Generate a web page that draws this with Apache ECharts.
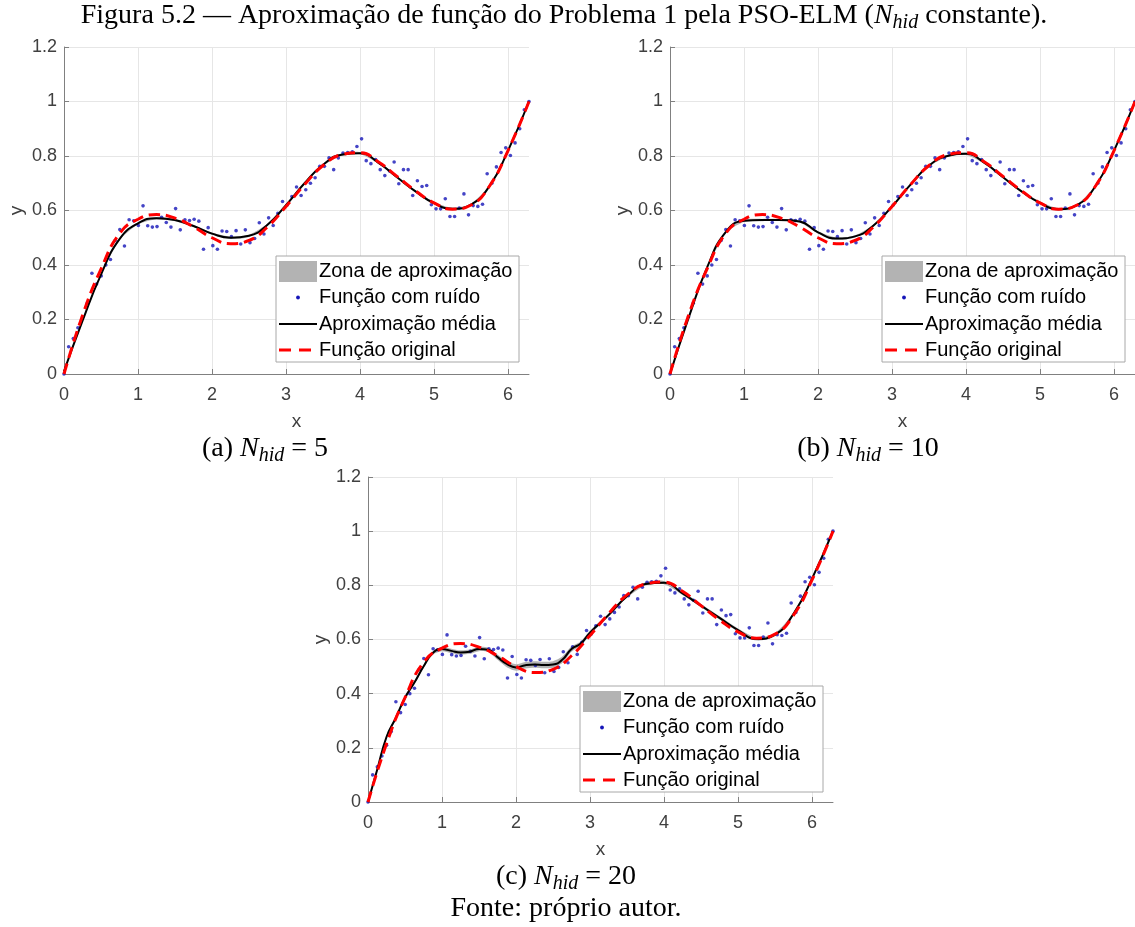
<!DOCTYPE html>
<html><head><meta charset="utf-8">
<script src="https://cdn.jsdelivr.net/npm/echarts@6/dist/echarts.min.js"></script>
<style>html,body{margin:0;padding:0;background:#fff}#c{width:1135px;height:927px}</style>
</head><body><div id="c"></div>
<script>
// ---------- DATA ----------
const xTickValues = [0, 1, 2, 3, 4, 5, 6];
const yTickValues = [0, 0.2, 0.4, 0.6, 0.8, 1, 1.2];
const xMax = 6.2832;

const curveX = [0,0.25,0.5,0.75,1,1.25,1.5,1.75,2,2.25,2.5,2.75,3,3.25,3.5,3.75,4,4.25,4.5,4.75,5,5.25,5.5,5.75,6,6.2832];
const originalY = [0,0.215,0.385,0.515,0.568,0.585,0.572,0.54,0.50,0.478,0.49,0.54,0.615,0.695,0.765,0.805,0.812,0.778,0.725,0.672,0.628,0.605,0.62,0.69,0.82,1.0];
const meanY5  = [0.01,0.195,0.365,0.495,0.553,0.572,0.565,0.543,0.515,0.50,0.507,0.548,0.62,0.70,0.768,0.805,0.81,0.775,0.722,0.67,0.627,0.606,0.622,0.69,0.82,1.0];
const meanY10 = [0,0.205,0.39,0.52,0.562,0.565,0.565,0.56,0.52,0.497,0.505,0.545,0.615,0.695,0.765,0.80,0.808,0.775,0.722,0.67,0.628,0.605,0.62,0.69,0.82,1.0];
const bandHalf5  = [0.004,0.004,0.004,0.004,0.004,0.004,0.004,0.004,0.004,0.004,0.004,0.004,0.004,0.004,0.004,0.004,0.004,0.004,0.004,0.004,0.004,0.004,0.004,0.004,0.004,0.004];
const bandHalf10 = [0.004,0.004,0.004,0.004,0.004,0.004,0.004,0.004,0.004,0.004,0.004,0.004,0.004,0.004,0.004,0.004,0.004,0.004,0.004,0.004,0.004,0.004,0.004,0.004,0.004,0.004];

const curveX20 = [0,0.125,0.25,0.375,0.5,0.625,0.75,0.875,1,1.125,1.25,1.375,1.5,1.625,1.75,1.875,2,2.125,2.25,2.375,2.5,2.625,2.75,2.875,3,3.25,3.5,3.75,4,4.25,4.5,4.75,5,5.25,5.5,5.75,6,6.2832];
const meanY20 = [0,0.12,0.24,0.31,0.385,0.44,0.50,0.55,0.565,0.558,0.552,0.555,0.565,0.562,0.535,0.51,0.497,0.505,0.508,0.506,0.508,0.525,0.565,0.585,0.625,0.69,0.76,0.805,0.81,0.77,0.725,0.68,0.635,0.602,0.618,0.695,0.825,1.0];
const bandHalf20 = [0.006,0.006,0.006,0.006,0.006,0.006,0.006,0.006,0.008,0.008,0.008,0.008,0.008,0.008,0.01,0.012,0.012,0.012,0.012,0.012,0.012,0.012,0.01,0.008,0.008,0.006,0.006,0.006,0.006,0.006,0.006,0.006,0.006,0.006,0.006,0.006,0.006,0.006];

const noiseX = [0,0.063,0.126,0.188,0.251,0.314,0.377,0.44,0.503,0.565,0.628,0.691,0.754,0.817,0.88,0.942,1.005,1.068,1.131,1.194,1.257,1.319,1.382,1.445,1.508,1.571,1.634,1.696,1.759,1.822,1.885,1.948,2.011,2.073,2.136,2.199,2.262,2.325,2.388,2.45,2.513,2.576,2.639,2.702,2.765,2.827,2.89,2.953,3.016,3.079,3.142,3.204,3.267,3.33,3.393,3.456,3.519,3.581,3.644,3.707,3.77,3.833,3.896,3.958,4.021,4.084,4.147,4.21,4.273,4.335,4.398,4.461,4.524,4.587,4.65,4.712,4.775,4.838,4.901,4.964,5.027,5.089,5.152,5.215,5.278,5.341,5.404,5.466,5.529,5.592,5.655,5.718,5.781,5.843,5.906,5.969,6.032,6.095,6.158,6.22,6.283];
const noiseY = [0.00,0.10,0.13,0.17,0.21,0.26,0.37,0.33,0.36,0.40,0.42,0.49,0.53,0.47,0.566,0.562,0.545,0.617,0.544,0.539,0.541,0.575,0.556,0.539,0.607,0.529,0.566,0.563,0.568,0.561,0.458,0.537,0.471,0.458,0.525,0.523,0.504,0.526,0.477,0.529,0.482,0.497,0.555,0.514,0.573,0.545,0.59,0.633,0.62,0.651,0.686,0.655,0.676,0.70,0.72,0.762,0.762,0.793,0.75,0.793,0.811,0.813,0.815,0.835,0.863,0.783,0.772,0.787,0.75,0.728,0.745,0.778,0.698,0.75,0.75,0.655,0.709,0.688,0.692,0.621,0.606,0.606,0.643,0.578,0.578,0.609,0.661,0.584,0.618,0.615,0.623,0.735,0.70,0.76,0.813,0.83,0.802,0.848,0.90,0.97,1.0];

const panelCaptions = [['(a) ', '5'], ['(b) ', '10'], ['(c) ', '20']];
const legendLabels = ['Zona de aproximação', 'Função com ruído', 'Aproximação média', 'Função original'];

// ---------- LAYOUT / STYLE ----------
const grids = [
  {left: 64, top: 47, width: 465, height: 327},
  {left: 670, top: 47, width: 465, height: 327},
  {left: 368, top: 477, width: 465, height: 325}
];
const captionPos = [[265, 449], [868, 449], [566, 877]];
const SANS = '"Liberation Sans", Arial, sans-serif';
const SERIF = '"Liberation Serif", "Times New Roman", serif';
const AXIS_COLOR = '#808080';
const NOISE_COLOR = '#1515b8';

const pairs = (xs, ys) => xs.map((x, i) => [x, ys[i]]);

const panels = [
  {cx: curveX, mean: meanY5, band: bandHalf5},
  {cx: curveX, mean: meanY10, band: bandHalf10},
  {cx: curveX20, mean: meanY20, band: bandHalf20}
];

const xAxis = [], yAxis = [], series = [];
panels.forEach((p, i) => {
  xAxis.push({
    type: 'value', gridIndex: i, min: 0, max: xMax, interval: 1,
    axisLine: {show: true, onZero: false, lineStyle: {color: AXIS_COLOR, width: 1}},
    axisTick: {show: true, inside: true, length: 5, lineStyle: {color: AXIS_COLOR}},
    axisLabel: {color: '#404040', fontSize: 18, fontFamily: SANS, margin: 12, showMaxLabel: false,
      formatter: v => (xTickValues.indexOf(v) >= 0 ? String(v) : '')},
    splitLine: {show: true, showMaxLine: false, lineStyle: {color: '#e6e6e6', width: 1}},
    name: 'x', nameLocation: 'middle', nameGap: 38,
    nameTextStyle: {color: '#404040', fontSize: 19, fontFamily: SANS}
  });
  yAxis.push({
    type: 'value', gridIndex: i, min: 0, max: 1.2, interval: 0.2,
    axisLine: {show: true, onZero: false, lineStyle: {color: AXIS_COLOR, width: 1}},
    axisTick: {show: true, inside: true, length: 5, lineStyle: {color: AXIS_COLOR}},
    axisLabel: {color: '#404040', fontSize: 18, fontFamily: SANS, margin: 7,
      formatter: v => String(Math.round(v * 10) / 10)},
    splitLine: {show: true, lineStyle: {color: '#e6e6e6', width: 1}},
    name: 'y', nameLocation: 'middle', nameGap: 38, nameRotate: 90,
    nameTextStyle: {color: '#404040', fontSize: 19, fontFamily: SANS}
  });
  const bandData = p.cx.map((x, k) => [x, p.mean[k] - p.band[k], p.mean[k] + p.band[k]]);
  series.push({
    name: legendLabels[0], type: 'custom', xAxisIndex: i, yAxisIndex: i, silent: true, z: 1,
    encode: {x: 0, y: [1, 2]},
    data: bandData,
    renderItem: (params, api) => {
      if (params.dataIndex !== 0) return null;
      const upper = bandData.map(d => api.coord([d[0], d[2]]));
      const lowerPts = bandData.map(d => api.coord([d[0], d[1]])).reverse();
      return {type: 'polygon', shape: {points: upper.concat(lowerPts), smooth: 0.25},
        style: {fill: '#b3b3b3', stroke: null}};
    }
  });
  series.push({
    name: legendLabels[1], type: 'scatter', xAxisIndex: i, yAxisIndex: i, symbolSize: 3.6,
    itemStyle: {color: NOISE_COLOR}, data: pairs(noiseX, noiseY), z: 2
  });
  series.push({
    name: legendLabels[2], type: 'line', xAxisIndex: i, yAxisIndex: i, smooth: true, symbol: 'none',
    lineStyle: {color: '#000', width: 2}, data: pairs(p.cx, p.mean), z: 3
  });
  series.push({
    name: legendLabels[3], type: 'line', xAxisIndex: i, yAxisIndex: i, smooth: true, symbol: 'none',
    lineStyle: {color: '#ff0000', width: 3, type: [11, 6]}, data: pairs(curveX, originalY), z: 4
  });
});

// legend boxes (drawn as graphics)
function legendGroup(g) {
  const rows = [15.5, 41.5, 68, 94];
  const Z = 100;
  const children = [
    {type: 'rect', z: Z, shape: {x: 0, y: 0, width: 243, height: 106}, style: {fill: '#fff', stroke: '#a8a8a8', lineWidth: 1}},
    {type: 'rect', z: Z + 1, shape: {x: 3, y: 5, width: 38, height: 21}, style: {fill: '#b3b3b3'}},
    {type: 'circle', z: Z + 1, shape: {cx: 22, cy: rows[1], r: 1.9}, style: {fill: NOISE_COLOR}},
    {type: 'line', z: Z + 1, shape: {x1: 3, y1: rows[2], x2: 41, y2: rows[2]}, style: {stroke: '#000', lineWidth: 2}},
    {type: 'line', z: Z + 1, shape: {x1: 3, y1: rows[3], x2: 41, y2: rows[3]}, style: {stroke: '#ff0000', lineWidth: 3, lineDash: [12, 8]}}
  ];
  legendLabels.forEach((t, k) => children.push({
    type: 'text', z: Z + 1, x: 43, y: rows[k],
    style: {text: t, font: '20px ' + SANS, fill: '#000', textAlign: 'left', align: 'left', textVerticalAlign: 'middle', verticalAlign: 'middle'}
  }));
  return {type: 'group', x: g.left + 212, y: g.top + 209, z: Z, children};
}

const rich = {
  r: {fontFamily: SERIF, fontSize: 28, color: '#000', lineHeight: 34},
  i: {fontFamily: SERIF, fontStyle: 'italic', fontSize: 28, color: '#000', lineHeight: 34},
  s: {fontFamily: SERIF, fontStyle: 'italic', fontSize: 20, color: '#000', lineHeight: 22, padding: [14, 0, 0, 0]}
};
const graphic = [];
graphic.push({
  type: 'text', x: 564, y: 16, z: 100,
  style: {text: '{r|Figura 5.2 — Aproximação de função do Problema 1 pela PSO-ELM (}{i|N}{s|hid}{r| constante).}',
    rich, textAlign: 'center', align: 'center', textVerticalAlign: 'middle', verticalAlign: 'middle'}
});
panelCaptions.forEach((c, k) => graphic.push({
  type: 'text', x: captionPos[k][0], y: captionPos[k][1], z: 100,
  style: {text: '{r|' + c[0] + '}{i|N}{s|hid}{r| = ' + c[1] + '}', rich,
    textAlign: 'center', align: 'center', textVerticalAlign: 'middle', verticalAlign: 'middle'}
}));
graphic.push({
  type: 'text', x: 566, y: 909, z: 100,
  style: {text: 'Fonte: próprio autor.', font: '28px ' + SERIF, fill: '#000',
    textAlign: 'center', align: 'center', textVerticalAlign: 'middle', verticalAlign: 'middle'}
});
grids.forEach(g => graphic.push(legendGroup(g)));

const chart = echarts.init(document.getElementById('c'), null, {renderer: 'canvas'});
chart.setOption({
  animation: false,
  backgroundColor: '#fff',
  grid: grids.map(g => Object.assign({containLabel: false}, g)),
  xAxis, yAxis, series, graphic
});
</script></body></html>
